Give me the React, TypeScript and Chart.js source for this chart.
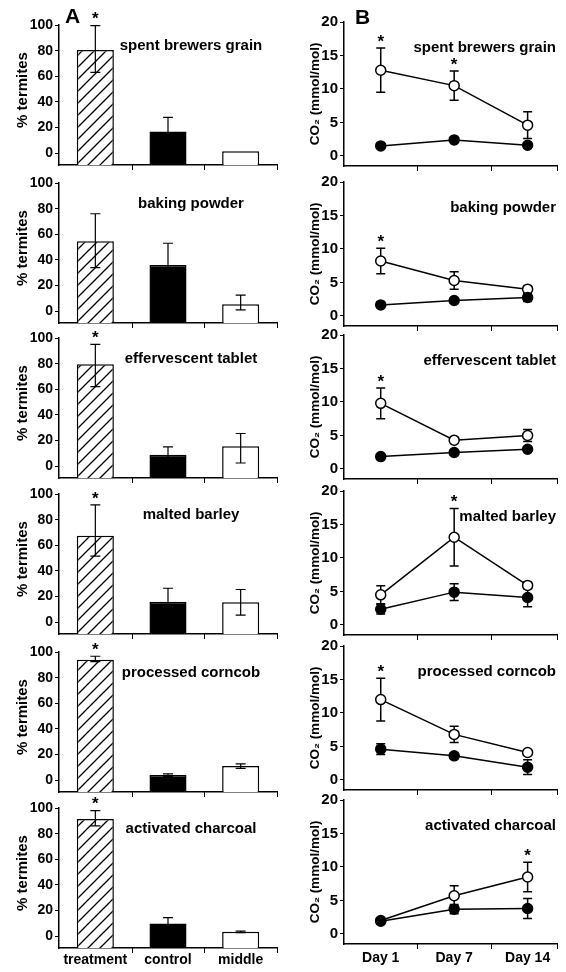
import React, { useEffect, useRef } from "react";
import { Chart, registerables } from "chart.js";

Chart.register(...registerables);

const FONT = "'Liberation Sans', Arial, Helvetica, sans-serif";

// ---------- data ----------
const substrates = [
  "spent brewers grain",
  "baking powder",
  "effervescent tablet",
  "malted barley",
  "processed corncob",
  "activated charcoal",
];
const choiceLabels = ["treatment", "control", "middle"];
const dayLabels = ["Day 1", "Day 7", "Day 14"];
const pctTicks = [0, 20, 40, 60, 80, 100];
const co2Ticks = [0, 5, 10, 15, 20];

// Panel A: % termites choosing [treatment, control, middle]
const termitesMean = [
  [80.5, 17, 1.5],
  [54.5, 36, 5.5],
  [79.5, 9, 15.5],
  [67.5, 16, 15.5],
  [94, 4, 11],
  [91.5, 10, 3.4],
];
const termitesErrUp = [
  [19, 11, 0],
  [21.5, 17, 7],
  [15.5, 6, 10],
  [24, 10.5, 10],
  [2.7, 1, 1.8],
  [6.5, 4.5, 0.6],
];
const termitesErrDown = [
  [17.5, 11, 0],
  [20.5, 17, 4.5],
  [17.5, 6, 13],
  [16, 10.5, 10],
  [1.5, 1, 1.8],
  [5.5, 4.5, 0.6],
];
const termitesStar = [true, false, true, true, true, true];

// Panel B: CO2 (mmol/mol) on Day 1, 7, 14 — open circles (treatment), filled (control)
const co2TreatMean = [
  [12.8, 10.5, 4.6],
  [8.2, 5.3, 4.0],
  [9.8, 4.3, 5.0],
  [4.5, 13.1, 5.9],
  [12.0, 6.8, 4.1],
  [2.0, 5.7, 8.5],
];
const co2TreatErr = [
  [3.3, 2.2, 2.0],
  [1.9, 1.3, 0.4],
  [2.3, 0.4, 0.9],
  [1.35, 4.3, 0.5],
  [3.2, 1.2, 0.4],
  [0.3, 1.5, 2.2],
];
const co2CtrlMean = [
  [1.5, 2.4, 1.6],
  [1.65, 2.3, 2.75],
  [1.85, 2.45, 2.95],
  [2.35, 4.9, 4.1],
  [4.6, 3.6, 1.9],
  [1.9, 3.7, 3.8],
];
const co2CtrlErr = [
  [0.2, 0.2, 0.2],
  [0.2, 0.3, 0.6],
  [0.2, 0.2, 0.2],
  [0.7, 1.25, 1.4],
  [0.8, 0.4, 1.1],
  [0.4, 0.7, 1.5],
];
const co2Star = [
  [true, true, false],
  [true, false, false],
  [true, false, false],
  [false, true, false],
  [true, false, false],
  [false, false, true],
];

// ---------- layout ----------
const PCT_MIN = -9.2;
const CO2_MIN = -1.5;
const LEFT_TOP = [25, 183, 338, 494, 652, 808];
const RIGHT_TOP = [22, 182, 335, 491, 646, 800];
const LEFT_H = 140;
const RIGHT_H = 144;
const PAD_T = 24;
const COL_W = 283;

type ErrSpec = { mean: number[]; up: number[]; down: number[] } | null;

type PluginOpts = {
  title: string;
  titleX: number;
  titleDy: number;
  titleSize: number;
  label: string;
  labelAlign: CanvasTextAlign;
  labelX: number;
  labelValue: number;
  tickVals: number[];
  letter: string | null;
  letterX: number;
  letterDy: number;
  errs: ErrSpec[];
  stars: (boolean[] | null)[];
  cap: number;
  errLW: number;
  errBehind: boolean;
};

function makePlugin(o: PluginOpts) {
  const drawErrors = (chart: any) => {
    const ctx = chart.ctx as CanvasRenderingContext2D;
    const y = chart.scales.y;
    ctx.save();
    ctx.strokeStyle = "#000";
    ctx.lineWidth = o.errLW;
    o.errs.forEach((e, di) => {
      if (!e) return;
      const meta = chart.getDatasetMeta(di);
      meta.data.forEach((el: any, j: number) => {
        const x = el.x;
        const m = e.mean[j];
        const ym = y.getPixelForValue(m);
        ctx.beginPath();
        if (e.up[j] > 0) {
          const yt = y.getPixelForValue(m + e.up[j]);
          ctx.moveTo(x, ym);
          ctx.lineTo(x, yt);
          ctx.moveTo(x - o.cap, yt);
          ctx.lineTo(x + o.cap, yt);
        }
        if (e.down[j] > 0) {
          const yb = y.getPixelForValue(m - e.down[j]);
          ctx.moveTo(x, ym);
          ctx.lineTo(x, yb);
          ctx.moveTo(x - o.cap, yb);
          ctx.lineTo(x + o.cap, yb);
        }
        ctx.stroke();
      });
    });
    ctx.restore();
  };

  const drawStars = (chart: any) => {
    const ctx = chart.ctx as CanvasRenderingContext2D;
    const y = chart.scales.y;
    const size = 17;
    ctx.save();
    ctx.fillStyle = "#000";
    ctx.font = `bold ${size}px ${FONT}`;
    ctx.textAlign = "center";
    ctx.textBaseline = "alphabetic";
    o.stars.forEach((s, di) => {
      if (!s) return;
      const meta = chart.getDatasetMeta(di);
      const e = o.errs[di]!;
      s.forEach((flag, j) => {
        if (!flag) return;
        const el = meta.data[j];
        const yt = y.getPixelForValue(e.mean[j] + e.up[j]);
        const cy = yt - 10;
        ctx.fillText("*", el.x, cy + 0.52 * size);
      });
    });
    ctx.restore();
  };

  return {
    id: "panelDecor",
    beforeDatasetsDraw(chart: any) {
      if (o.errBehind) drawErrors(chart);
    },
    afterDatasetsDraw(chart: any) {
      if (!o.errBehind) drawErrors(chart);
      drawStars(chart);
    },
    afterDraw(chart: any) {
      const ctx = chart.ctx as CanvasRenderingContext2D;
      const area = chart.chartArea;
      const x = chart.scales.x;
      const y = chart.scales.y;
      ctx.save();
      // x-axis tick marks
      ctx.strokeStyle = "#000";
      ctx.lineWidth = 1;
      ctx.beginPath();
      o.tickVals.forEach((v) => {
        const px = Math.round(x.getPixelForValue(v)) + 0.5;
        ctx.moveTo(px, area.bottom);
        ctx.lineTo(px, area.bottom + 5);
      });
      ctx.stroke();
      // axis title
      ctx.fillStyle = "#000";
      ctx.font = `bold ${o.titleSize}px ${FONT}`;
      ctx.textAlign = "center";
      ctx.textBaseline = "middle";
      ctx.save();
      ctx.translate(o.titleX, (area.top + area.bottom) / 2 + o.titleDy);
      ctx.rotate(-Math.PI / 2);
      ctx.fillText(o.title, 0, 0);
      ctx.restore();
      // substrate label
      ctx.font = `bold 15px ${FONT}`;
      ctx.textAlign = o.labelAlign;
      ctx.textBaseline = "middle";
      ctx.fillText(o.label, o.labelX, y.getPixelForValue(o.labelValue));
      // panel letter
      if (o.letter) {
        ctx.font = `bold 21px ${FONT}`;
        ctx.textAlign = "left";
        ctx.textBaseline = "alphabetic";
        ctx.fillText(o.letter, o.letterX, area.top + o.letterDy + 0.36 * 21);
      }
      ctx.restore();
    },
  };
}

function makeHatch(ctx: CanvasRenderingContext2D) {
  const s = 12;
  const c = document.createElement("canvas");
  c.width = s;
  c.height = s;
  const g = c.getContext("2d")!;
  g.fillStyle = "#fff";
  g.fillRect(0, 0, s, s);
  g.strokeStyle = "#000";
  g.lineWidth = 1.3;
  g.beginPath();
  g.moveTo(-1, s + 1);
  g.lineTo(s + 1, -1);
  g.moveTo(-s / 2 - 1, s / 2 + 1);
  g.lineTo(s / 2 + 1, -s / 2 - 1);
  g.moveTo(s / 2 - 1, s * 1.5 + 1);
  g.lineTo(s * 1.5 + 1, s / 2 - 1);
  g.stroke();
  return ctx.createPattern(c, "repeat");
}

const tickFont = { family: FONT, size: 14, weight: "bold" as const };
const LABEL_AXIS_H = 26;

function barConfig(row: number, ctx: CanvasRenderingContext2D, padB: number): any {
  const isBottom = row === substrates.length - 1;
  const mean = termitesMean[row];
  const plugin = makePlugin({
    title: "% termites",
    titleX: 23,
    titleDy: -5,
    titleSize: 15,
    label: substrates[row],
    labelAlign: "center",
    labelX: 191,
    labelValue: 84,
    tickVals: [0.5, 1.5, 2.5],
    letter: row === 0 ? "A" : null,
    letterX: 65,
    letterDy: -10,
    errs: [{ mean, up: termitesErrUp[row], down: termitesErrDown[row] }],
    stars: [[termitesStar[row], false, false]],
    cap: 5,
    errLW: 1.2,
    errBehind: false,
  });
  const axisH = isBottom ? LABEL_AXIS_H : 0;
  return {
    type: "bar",
    data: {
      labels: choiceLabels,
      datasets: [
        {
          data: mean,
          backgroundColor: [makeHatch(ctx), "#000", "#fff"],
          borderColor: "#000",
          borderWidth: 1.5,
          base: PCT_MIN,
          barPercentage: 0.51,
          categoryPercentage: 1,
        },
      ],
    },
    options: {
      animation: false,
      responsive: false,
      events: [],
      layout: { padding: { top: PAD_T, bottom: padB - axisH, left: 0, right: 6 } },
      plugins: { legend: { display: false }, tooltip: { enabled: false } },
      scales: {
        x: {
          type: "category",
          offset: true,
          grid: { display: false, drawTicks: false },
          border: { display: true, color: "#000", width: 1.5 },
          ticks: { display: isBottom, color: "#000", font: tickFont, padding: 4, maxRotation: 0, autoSkip: false },
          afterFit(s: any) {
            s.height = axisH;
            s.paddingLeft = 0;
            s.paddingRight = 0;
          },
        },
        y: {
          min: PCT_MIN,
          max: 100,
          afterBuildTicks(s: any) {
            s.ticks = pctTicks.map((v) => ({ value: v }));
          },
          grid: { display: true, drawOnChartArea: false, drawTicks: true, tickLength: 4, color: "#000", lineWidth: 1 },
          border: { display: true, color: "#000", width: 1.5 },
          ticks: { color: "#000", font: tickFont, padding: 2 },
          afterFit(s: any) {
            s.width = 59;
            s.paddingTop = 0;
            s.paddingBottom = 0;
          },
        },
      },
    },
    plugins: [plugin],
  };
}

function lineConfig(row: number, padB: number): any {
  const isBottom = row === substrates.length - 1;
  const ctrl = co2CtrlMean[row];
  const treat = co2TreatMean[row];
  const plugin = makePlugin({
    title: "CO\u2082 (mmol/mol)",
    titleX: 32,
    titleDy: 0,
    titleSize: 13.5,
    label: substrates[row],
    labelAlign: "right",
    labelX: 273,
    labelValue: 16.2,
    tickVals: [0.5, 1.5, 2.4],
    letter: row === 0 ? "B" : null,
    letterX: 72,
    letterDy: -6,
    errs: [
      { mean: ctrl, up: co2CtrlErr[row], down: co2CtrlErr[row] },
      { mean: treat, up: co2TreatErr[row], down: co2TreatErr[row] },
    ],
    stars: [null, co2Star[row]],
    cap: 4.5,
    errLW: 1.5,
    errBehind: true,
  });
  const axisH = isBottom ? LABEL_AXIS_H : 0;
  const pts = (arr: number[]) => arr.map((v, i) => ({ x: i, y: v }));
  return {
    type: "line",
    data: {
      datasets: [
        {
          data: pts(ctrl),
          borderColor: "#000",
          borderWidth: 1.5,
          pointRadius: 5,
          pointBorderWidth: 1.5,
          pointBorderColor: "#000",
          pointBackgroundColor: "#000",
          clip: false,
        },
        {
          data: pts(treat),
          borderColor: "#000",
          borderWidth: 1.5,
          pointRadius: 5,
          pointBorderWidth: 1.5,
          pointBorderColor: "#000",
          pointBackgroundColor: "#fff",
          clip: false,
        },
      ],
    },
    options: {
      animation: false,
      responsive: false,
      events: [],
      layout: { padding: { top: PAD_T, bottom: padB - axisH, left: 0, right: 9 } },
      plugins: { legend: { display: false }, tooltip: { enabled: false } },
      scales: {
        x: {
          type: "linear",
          min: -0.5,
          max: 2.4,
          afterBuildTicks(s: any) {
            s.ticks = dayLabels.map((_, i) => ({ value: i }));
          },
          grid: { display: false, drawTicks: false },
          border: { display: true, color: "#000", width: 1.5 },
          ticks: {
            display: isBottom,
            color: "#000",
            font: tickFont,
            padding: 6,
            maxRotation: 0,
            autoSkip: false,
            callback: (v: number) => dayLabels[Math.round(v)] ?? "",
          },
          afterFit(s: any) {
            s.height = axisH;
            s.paddingLeft = 0;
            s.paddingRight = 0;
          },
        },
        y: {
          min: CO2_MIN,
          max: 20,
          afterBuildTicks(s: any) {
            s.ticks = co2Ticks.map((v) => ({ value: v }));
          },
          grid: { display: true, drawOnChartArea: false, drawTicks: true, tickLength: 4, color: "#000", lineWidth: 1 },
          border: { display: true, color: "#000", width: 1.5 },
          ticks: { color: "#000", font: { ...tickFont, size: 15 }, padding: 2 },
          afterFit(s: any) {
            s.width = 61;
            s.paddingTop = 0;
            s.paddingBottom = 0;
          },
        },
      },
    },
    plugins: [plugin],
  };
}

function Panel({ side, row }: { side: "left" | "right"; row: number }) {
  const ref = useRef<HTMLCanvasElement>(null);
  const isBottom = row === substrates.length - 1;
  const top = side === "left" ? LEFT_TOP[row] : RIGHT_TOP[row];
  const chartH = side === "left" ? LEFT_H : RIGHT_H;
  const padB = isBottom ? 28 : 10;
  const height = PAD_T + chartH + padB;
  useEffect(() => {
    const canvas = ref.current!;
    const ctx = canvas.getContext("2d")!;
    const cfg = side === "left" ? barConfig(row, ctx, padB) : lineConfig(row, padB);
    const chart = new Chart(canvas, cfg);
    return () => chart.destroy();
  }, [side, row, padB]);
  return (
    <canvas
      ref={ref}
      width={COL_W}
      height={height}
      style={{
        position: "absolute",
        left: side === "left" ? 0 : COL_W,
        top: top - PAD_T,
        width: COL_W,
        height,
      }}
    />
  );
}

export default function App() {
  return (
    <div
      style={{
        position: "fixed",
        left: 0,
        top: 0,
        width: 566,
        height: 972,
        overflow: "hidden",
        background: "#fff",
      }}
    >
      {substrates.map((_, r) => (
        <React.Fragment key={r}>
          <Panel side="left" row={r} />
          <Panel side="right" row={r} />
        </React.Fragment>
      ))}
    </div>
  );
}
